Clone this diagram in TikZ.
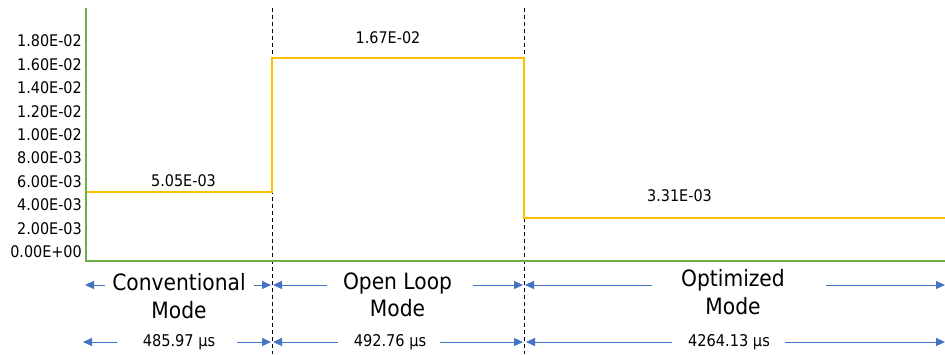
\documentclass[tikz,border=0pt]{standalone}
\usepackage{fontspec}
\setmainfont{DejaVu Sans Condensed}
\usetikzlibrary{arrows.meta}
\definecolor{axisgreen}{HTML}{70AD47}
\definecolor{lineorange}{HTML}{FFC000}
\definecolor{arrowblue}{HTML}{4472C4}
\begin{document}
\begin{tikzpicture}[x=1pt,y=-1pt,
  ylab/.style={anchor=east,inner sep=0pt,font=\fontsize{16}{18}\selectfont},
  vallab/.style={inner sep=0pt,font=\fontsize{16}{18}\selectfont},
  modelab/.style={align=center,inner sep=0pt,font=\fontsize{22.5}{27.5}\selectfont},
  durlab/.style={inner sep=0pt,font=\fontsize{16.2}{18}\selectfont},
  dimarrow/.style={arrowblue,line width=0.9pt,-{Triangle[length=9pt,width=8pt]}},
  sepline/.style={line width=0.6pt,dash pattern=on 4pt off 3pt}]
\useasboundingbox (0,0) rectangle (945,354);
% separators
\coordinate (s1t) at (272,8);  \coordinate (s1b) at (272,354);
\coordinate (s2t) at (524,8);  \coordinate (s2b) at (524,354);
\draw[sepline] (s1t) -- (s1b);
\draw[sepline] (s2t) -- (s2b);
% data step line
\coordinate (p0) at (86,192);
\coordinate (p1) at (272,192);
\coordinate (p2) at (272,58);
\coordinate (p3) at (524,58);
\coordinate (p4) at (524,218);
\coordinate (p5) at (945,218);
\draw[lineorange,line width=2.6pt] (p0) -- (p1) -- (p2) -- (p3) -- (p4) -- (p5);
% axes
\coordinate (atop) at (86,8);
\coordinate (aorig) at (86,261);
\coordinate (aright) at (945,261);
\draw[axisgreen,line width=1.5pt] (atop) -- (aorig) -- (aright);
% y labels
\node[ylab] (y0) at (82,41.0)  {1.80E-02};
\node[ylab] (y1) at (82,64.4)  {1.60E-02};
\node[ylab] (y2) at (82,87.8)  {1.40E-02};
\node[ylab] (y3) at (82,111.2) {1.20E-02};
\node[ylab] (y4) at (82,134.6) {1.00E-02};
\node[ylab] (y5) at (82,158.0) {8.00E-03};
\node[ylab] (y6) at (82,181.4) {6.00E-03};
\node[ylab] (y7) at (82,204.8) {4.00E-03};
\node[ylab] (y8) at (82,228.2) {2.00E-03};
\node[ylab] (y9) at (82,251.6) {0.00E+00};
% value labels
\node[vallab] (v1) at (183.5,181) {5.05E-03};
\node[vallab] (v2) at (388,37.5) {1.67E-02};
\node[vallab] (v3) at (679.5,196) {3.31E-03};
% mode labels
\node[modelab] (m1) at (179,296) {Conventional\\Mode};
\node[modelab] (m2) at (397.5,295) {Open Loop\\Mode};
\node[modelab] (m3) at (733,292) {Optimized\\Mode};
% duration labels
\node[durlab] (d1) at (179,342) {485.97 µs};
\node[durlab] (d2) at (390,342) {492.76 µs};
\node[durlab] (d3) at (729,342) {4264.13 µs};
% arrow ends, row 1
\coordinate (r1a) at (105,285);   \coordinate (r1at) at (85,285);
\coordinate (r1b) at (254,285);   \coordinate (r1bt) at (271,285);
\coordinate (r1c) at (327,285);   \coordinate (r1ct) at (273,285);
\coordinate (r1d) at (473,285);   \coordinate (r1dt) at (523,285);
\coordinate (r1e) at (652,285);   \coordinate (r1et) at (525,285);
\coordinate (r1f) at (826,285);   \coordinate (r1ft) at (945,285);
\draw[dimarrow] (r1a) -- (r1at);
\draw[dimarrow] (r1b) -- (r1bt);
\draw[dimarrow] (r1c) -- (r1ct);
\draw[dimarrow] (r1d) -- (r1dt);
\draw[dimarrow] (r1e) -- (r1et);
\draw[dimarrow] (r1f) -- (r1ft);
% arrow ends, row 2
\coordinate (r2a) at (117,342);   \coordinate (r2at) at (83,342);
\coordinate (r2b) at (237,342);   \coordinate (r2bt) at (271,342);
\coordinate (r2c) at (338,342);   \coordinate (r2ct) at (273,342);
\coordinate (r2d) at (440,342);   \coordinate (r2dt) at (523,342);
\coordinate (r2e) at (672,342);   \coordinate (r2et) at (526,342);
\coordinate (r2f) at (785,342);   \coordinate (r2ft) at (945,342);
\draw[dimarrow] (r2a) -- (r2at);
\draw[dimarrow] (r2b) -- (r2bt);
\draw[dimarrow] (r2c) -- (r2ct);
\draw[dimarrow] (r2d) -- (r2dt);
\draw[dimarrow] (r2e) -- (r2et);
\draw[dimarrow] (r2f) -- (r2ft);
\end{tikzpicture}
\end{document}
